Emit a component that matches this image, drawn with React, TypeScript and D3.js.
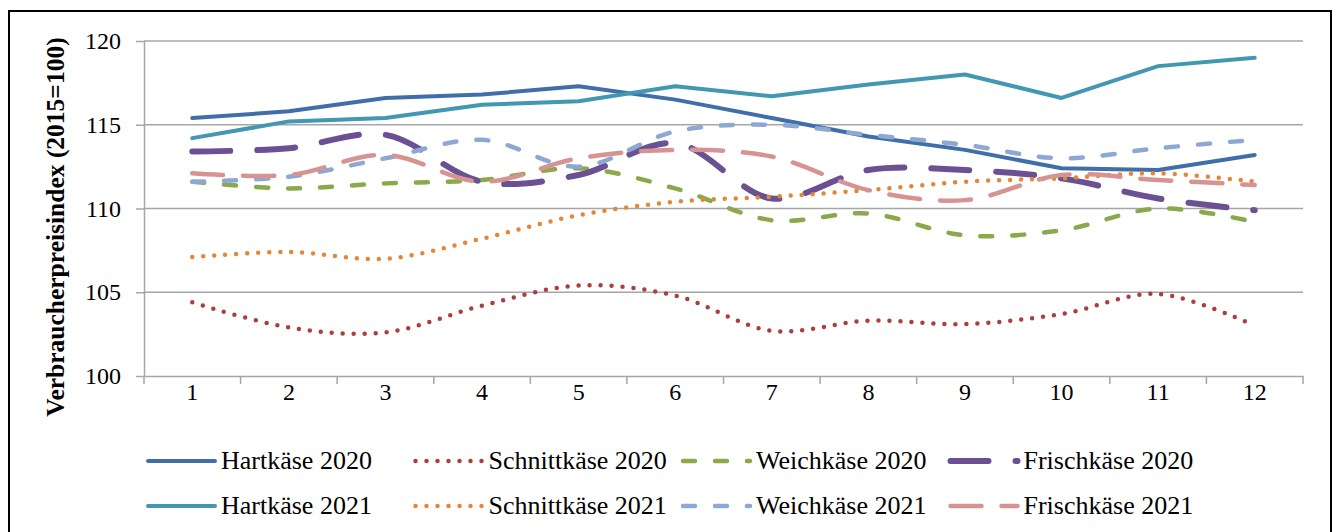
import { useEffect, useRef } from "react"
import * as d3 from "d3"

const months = ["1", "2", "3", "4", "5", "6", "7", "8", "9", "10", "11", "12"]
const yTicks = [100, 105, 110, 115, 120]

const hart2020 = [115.4, 115.8, 116.6, 116.8, 117.3, 116.5, 115.4, 114.3, 113.5, 112.4, 112.3, 113.2]
const hart2021 = [114.2, 115.2, 115.4, 116.2, 116.4, 117.3, 116.7, 117.4, 118.0, 116.6, 118.5, 119.0]
const schnitt2020 = [104.4, 102.9, 102.6, 104.2, 105.4, 104.8, 102.7, 103.3, 103.1, 103.7, 104.9, 103.0]
const schnitt2021 = [107.1, 107.4, 107.0, 108.2, 109.6, 110.4, 110.7, 111.1, 111.6, 111.8, 112.1, 111.6]
const weich2020 = [111.6, 111.2, 111.5, 111.7, 112.4, 111.2, 109.3, 109.7, 108.4, 108.7, 110.0, 109.2]
const weich2021 = [111.6, 111.9, 113.0, 114.1, 112.5, 114.6, 115.0, 114.4, 113.8, 113.0, 113.6, 114.1]
const frisch2020 = [113.4, 113.6, 114.4, 111.6, 112.0, 113.9, 110.6, 112.3, 112.3, 111.8, 110.6, 109.9]
const frisch2021 = [112.1, 112.0, 113.2, 111.6, 113.0, 113.5, 113.1, 111.1, 110.5, 112.0, 111.7, 111.4]

type Series = {
  name: string
  values: number[]
  color: string
  width: number
  dash: string | null
  smooth: boolean
}

const series: Series[] = [
  { name: "Hartkäse 2020", values: hart2020, color: "#3f6ea9", width: 4, dash: null, smooth: false },
  { name: "Schnittkäse 2020", values: schnitt2020, color: "#a9403d", width: 4.5, dash: "0 11", smooth: true },
  { name: "Weichkäse 2020", values: weich2020, color: "#8ba94a", width: 4.5, dash: "12 20", smooth: true },
  { name: "Frischkäse 2020", values: frisch2020, color: "#6b5193", width: 6, dash: "38 27", smooth: true },
  { name: "Hartkäse 2021", values: hart2021, color: "#4198b0", width: 4, dash: null, smooth: false },
  { name: "Schnittkäse 2021", values: schnitt2021, color: "#e38736", width: 4.5, dash: "0 11", smooth: true },
  { name: "Weichkäse 2021", values: weich2021, color: "#8ea8d4", width: 4.5, dash: "12 20", smooth: true },
  { name: "Frischkäse 2021", values: frisch2021, color: "#d69392", width: 4.5, dash: "31 20", smooth: true },
]

export default function App() {
  const svgRef = useRef(null)

  useEffect(() => {
    const width = 1333
    const height = 532
    const left = 144
    const right = 1303
    const top = 41
    const bottom = 376
    const font = "'Liberation Serif', 'Times New Roman', serif"

    const svg = d3.select(svgRef.current).attr("width", width).attr("height", height)
    svg.selectAll("*").remove()

    svg.append("rect").attr("width", width).attr("height", height).attr("fill", "#fff")
    svg
      .append("rect")
      .attr("x", 9)
      .attr("y", 11)
      .attr("width", 1322)
      .attr("height", 540)
      .attr("fill", "none")
      .attr("stroke", "#000")
      .attr("stroke-width", 2)

    const x = d3.scaleBand().domain(months).range([left, right])
    const y = d3.scaleLinear().domain([100, 120]).range([bottom, top])

    // gridlines
    svg
      .append("g")
      .selectAll("line")
      .data(yTicks.slice(1))
      .enter()
      .append("line")
      .attr("x1", left)
      .attr("x2", right)
      .attr("y1", (d) => y(d))
      .attr("y2", (d) => y(d))
      .attr("stroke", "#a6a6a6")
      .attr("stroke-width", 1.5)

    const yAxis = d3.axisLeft(y).tickValues(yTicks).tickSize(8).tickSizeOuter(0)
    const gy = svg.append("g").attr("transform", `translate(${left},0)`).call(yAxis)
    gy.attr("font-family", font)
    gy.selectAll("path, line").attr("stroke", "#a6a6a6").attr("stroke-width", 1.5)
    gy.selectAll("text")
      .attr("x", -23)
      .attr("font-family", font)
      .attr("font-size", 24)
      .attr("fill", "#000")

    const xAxis = d3.axisBottom(x).tickSize(0).tickSizeOuter(0)
    const gx = svg.append("g").attr("transform", `translate(0,${bottom})`).call(xAxis)
    gx.attr("font-family", font)
    gx.select("path").attr("stroke", "#a6a6a6").attr("stroke-width", 1.5)
    gx.selectAll("text")
      .attr("y", 7)
      .attr("font-family", font)
      .attr("font-size", 24)
      .attr("fill", "#000")
    // ticks between categories
    gx.append("g")
      .selectAll("line")
      .data(d3.range(months.length + 1))
      .enter()
      .append("line")
      .attr("x1", (i) => left + i * x.bandwidth())
      .attr("x2", (i) => left + i * x.bandwidth())
      .attr("y1", 0)
      .attr("y2", 8)
      .attr("stroke", "#a6a6a6")
      .attr("stroke-width", 1.5)

    svg
      .append("text")
      .attr("transform", `translate(64,227) rotate(-90)`)
      .attr("text-anchor", "middle")
      .attr("font-family", font)
      .attr("font-weight", "bold")
      .attr("font-size", 25.5)
      .text("Verbraucherpreisindex (2015=100)")

    const px = (i: number) => (x(months[i]) as number) + x.bandwidth() / 2

    series.forEach((s) => {
      const line = d3
        .line<number>()
        .x((_, i) => px(i))
        .y((d) => y(d))
        .curve(s.smooth ? d3.curveCatmullRom.alpha(0.5) : d3.curveLinear)
      svg
        .append("path")
        .datum(s.values)
        .attr("d", line)
        .attr("fill", "none")
        .attr("stroke", s.color)
        .attr("stroke-width", s.width)
        .attr("stroke-linecap", "round")
        .attr("stroke-linejoin", "round")
        .attr("stroke-dasharray", s.dash)
    })

    // legend: 4 columns x 2 rows
    const legend = svg.append("g")
    series.forEach((s, i) => {
      const col = i % 4
      const row = Math.floor(i / 4)
      const lx = 148 + col * 267.5
      const ly = 461 + row * 45
      legend
        .append("line")
        .attr("x1", lx)
        .attr("x2", lx + 67)
        .attr("y1", ly)
        .attr("y2", ly)
        .attr("stroke", s.color)
        .attr("stroke-width", s.width)
        .attr("stroke-linecap", "round")
        .attr("stroke-dasharray", s.dash)
      legend
        .append("text")
        .attr("x", lx + 73)
        .attr("y", ly + 8)
        .attr("font-family", font)
        .attr("font-size", 26)
        .text(s.name)
    })
  }, [])

  return <svg ref={svgRef} style={{ position: "absolute", left: 0, top: 0, display: "block" }}></svg>
}
